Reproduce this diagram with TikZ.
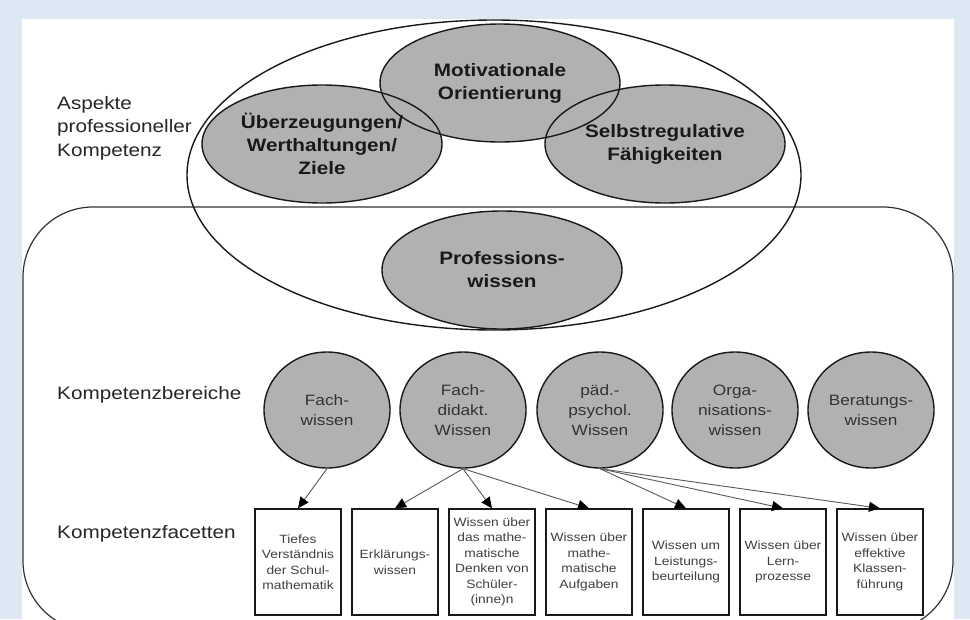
\documentclass[tikz,border=0pt]{standalone}
\usepackage{fontspec}
\setmainfont{Liberation Sans}[FakeStretch=1.15]
\usetikzlibrary{shapes.geometric,arrows.meta}
\definecolor{hgblau}{HTML}{DCE8F4}
\definecolor{ellgrau}{HTML}{B1B1B1}

\begin{document}
\begin{tikzpicture}[x=1pt,y=-1pt,
	aspekt/.style={ellipse, fill=ellgrau, minimum width=240pt, minimum height=118pt, inner sep=0pt, align=center, font=\fontsize{18}{23}\selectfont\bfseries, text=black!90},
	aspektrand/.style={ellipse, draw=black!90, line width=1.4pt, minimum width=240pt, minimum height=118pt, inner sep=0pt},
	bereich/.style={ellipse, draw=black!90, line width=1.4pt, fill=ellgrau, minimum width=126pt, minimum height=116pt, inner sep=0pt, align=center, font=\fontsize{15}{20}\selectfont, text=black!80},
	facette/.style={draw=black!90, line width=1.4pt, minimum width=86pt, minimum height=106pt, inner sep=0pt, align=center, font=\fontsize{12}{15.5}\selectfont, text=black!75},
	ebene/.style={anchor=west, inner sep=0pt, align=left, font=\fontsize{18}{23.5}\selectfont, text=black!85},
	pfeil/.style={draw=black!65, line width=0.9pt, -{Triangle[length=11pt,width=10pt,color=black]}}]
	\useasboundingbox (0,0) rectangle (970,619);
	\clip (0,0) rectangle (970,619);
	\fill[hgblau] (0,0) rectangle (970,619);
	\fill[white] (22,19) rectangle (954,619);
	\draw[black!80, line width=1.2pt, rounded corners=70pt] (23,207) rectangle (953,631);

	% Aspekte
	\node[aspekt] (motiv) at (500,83) {Motivationale\\Orientierung};
	\node[aspekt] (ueberz) at (322,144) {Überzeugungen/\\Werthaltungen/\\Ziele};
	\node[aspekt] (selbst) at (665,144) {Selbstregulative\\Fähigkeiten};
	\node[aspekt] (prof) at (502,270) {Professions-\\wissen};
	\foreach \n in {motiv,ueberz,selbst,prof}
		\node[aspektrand] at (\n) {};
	\node[ellipse, draw=black!90, line width=1.4pt, minimum width=614pt, minimum height=310pt] (kompetenz) at (494,175) {};

	% Bereiche
	\foreach \x/\n/\t in {327/fw/{Fach-\\wissen}, 463/fdw/{Fach-\\didakt.\\Wissen}, 600/ppw/{päd.-\\psychol.\\Wissen}, 735/ow/{Orga-\\nisations-\\wissen}, 871/bw/{Beratungs-\\wissen}}
		\node[bereich] (\n) at (\x,410) {\t};

	% Facetten
	\foreach \i/\t in {1/{Tiefes\\Verständnis\\der Schul-\\mathematik}, 2/{Erklärungs-\\wissen}, 3/{Wissen über\\das mathe-\\matische\\Denken von\\Schüler-\\(inne)n}, 4/{Wissen über\\mathe-\\matische\\Aufgaben}, 5/{Wissen um\\Leistungs-\\beurteilung}, 6/{Wissen über\\Lern-\\prozesse}, 7/{Wissen über\\effektive\\Klassen-\\führung}}
		\node[facette] (f\i) at (201+97*\i,562) {\t};

	\draw[pfeil] (fw.south) -- (f1.north);
	\foreach \z in {2,3,4}
		\draw[pfeil] (fdw.south) -- (f\z.north);
	\foreach \z in {5,6,7}
		\draw[pfeil] (ppw.south) -- (f\z.north);

	\node[ebene] (aspekte) at (57,128) {Aspekte\\professioneller\\Kompetenz};
	\node[ebene] (bereiche) at (57,395) {Kompetenzbereiche};
	\node[ebene] (facetten) at (57,534) {Kompetenzfacetten};
\end{tikzpicture}
\end{document}
